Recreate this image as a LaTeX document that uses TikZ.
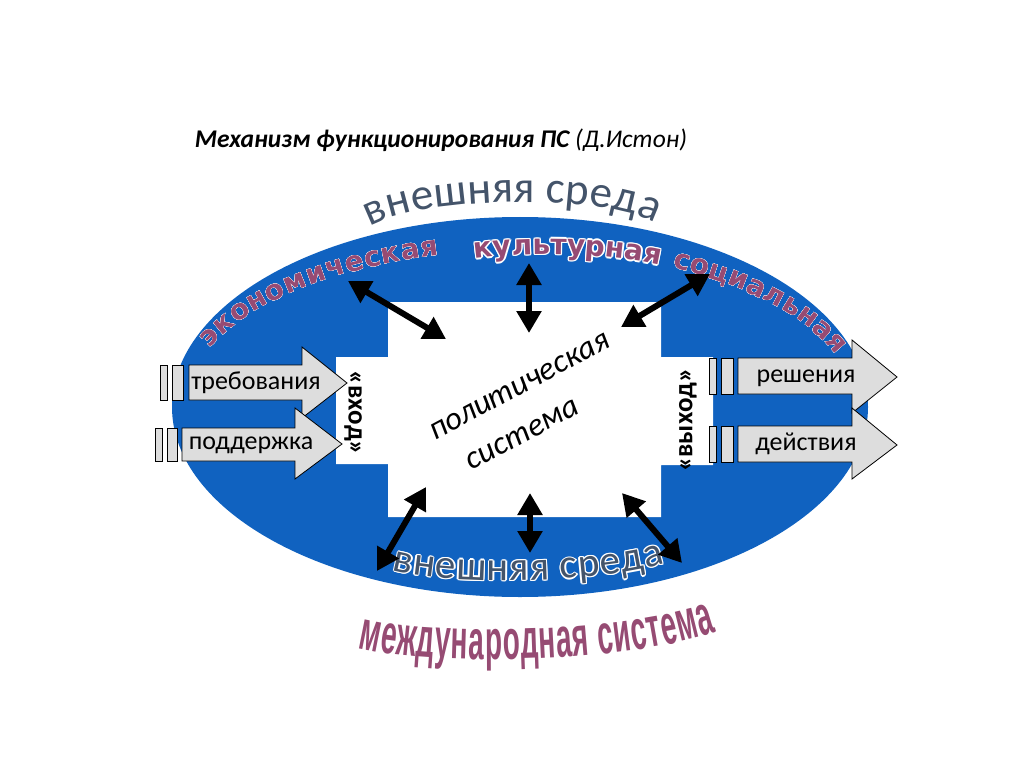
\documentclass[tikz,border=0pt]{standalone}
\usepackage{fontspec}
\setmainfont{Carlito}
\newfontfamily\heavyfont{DejaVu Sans}
\newfontfamily\narrowfont[FakeStretch=0.5]{Liberation Sans}
\usepackage{tikz}
\usetikzlibrary{positioning,arrows.meta,decorations.text}
\definecolor{eastonBlue}{HTML}{1062C0}
\definecolor{eastonMauve}{HTML}{964B73}
\definecolor{eastonSlate}{HTML}{44546A}
\definecolor{eastonGrey}{HTML}{DDDDDD}
\newcommand\ringfont{\heavyfont\bfseries\fontsize{28}{28}\selectfont}
\newcommand\envfont{\fontsize{45}{45}\selectfont}
\newcommand\lowenvfont{\fontsize{41}{41}\selectfont}
\newcommand\worldfont{\narrowfont\bfseries\fontsize{56}{56}\selectfont}
\tikzset{
  titletext/.style={font=\itshape\fontsize{25.5}{25.5}\selectfont,text=black},
  flowarrow/.style={draw=black,fill=eastonGrey,line width=0.8pt},
  flowbar/.style={draw=black,fill=eastonGrey,line width=0.6pt},
  flowlabel/.style={font=\fontsize{26}{26}\selectfont,text=black,inner sep=0pt},
  gatelabel/.style={font=\bfseries\fontsize{27}{27}\selectfont,text=black,inner sep=0pt},
  linkarrow/.style={{Triangle[length=22pt,width=24pt]}-{Triangle[length=22pt,width=24pt]},line width=6pt,draw=black},
  alongtext/.style 2 args={decorate,decoration={text along path,text align=fit to path,text color=#1,text={#2}}}
}

\begin{document}
\begin{tikzpicture}[x=1pt,y=-1pt]
  \useasboundingbox (0,0) rectangle (1024,767);
  \node[titletext] (title) at (441,140) {\textbf{Механизм функционирования ПС} (Д.Истон)};

  \coordinate (c) at (520,407);
  \fill[eastonBlue] (c) ellipse [x radius=348, y radius=190];
  \fill[white] (388,302) -- (661,302) -- (661,357) -- (713,357) -- (713,465) -- (661,465)
    -- (661,517) -- (388,517) -- (388,464) -- (336,464) -- (336,357) -- (388,357) -- cycle;

  \path[alongtext={eastonSlate}{|\envfont|внешняя среда}]
    (370,227) .. controls (420,196) and (605,193) .. (655,223);
  \path[alongtext={eastonMauve}{|\worldfont|международная система}]
    (358,648) .. controls (430,666) and (620,664) .. (716,632);

  % white rim first, coloured letters on top
  \foreach \ox/\oy/\ink in {-1.3/0/white,1.3/0/white,0/-1.3/white,0/1.3/white,
      -1/-1/white,1/1/white,-1/1/white,1/-1/white,0/0/eastonMauve}{
    \path[shift={(\ox,\oy)},alongtext={\ink}{|\ringfont|экономическая}]
      (c) ++(202:335 and 156) arc[start angle=202,end angle=256,x radius=335,y radius=156];
    \path[shift={(\ox,\oy)},alongtext={\ink}{|\ringfont|культурная}]
      (475,259) .. controls (525,252) and (600,252) .. (658,265);
    \path[shift={(\ox,\oy)},alongtext={\ink}{|\ringfont|социальная}]
      (c) ++(297:335 and 156) arc[start angle=297,end angle=340,x radius=335,y radius=156];
  }
  \foreach \ox/\oy/\ink in {-1.2/0/white,1.2/0/white,0/-1.2/white,0/1.2/white,
      -.9/-.9/white,.9/.9/white,-.9/.9/white,.9/-.9/white,0/0/eastonSlate}
    \path[shift={(\ox,\oy)},alongtext={\ink}{|\lowenvfont|внешняя среда}]
      (392,570) .. controls (440,585) and (600,585) .. (665,563);

  \coordinate (eco-out) at (348,281);
  \coordinate (eco-in) at (446,339);
  \coordinate (cul-out) at (529,263);
  \coordinate (cul-in) at (529,333);
  \coordinate (soc-out) at (710,274);
  \coordinate (soc-in) at (621,327);
  \coordinate (low-l-in) at (426,487);
  \coordinate (low-l-out) at (377,571);
  \coordinate (low-c-in) at (530,493);
  \coordinate (low-c-out) at (530,553);
  \coordinate (low-r-in) at (622,493);
  \coordinate (low-r-out) at (682,563);
  \foreach \a/\b in {eco-out/eco-in,cul-out/cul-in,soc-out/soc-in,
      low-l-in/low-l-out,low-c-in/low-c-out,low-r-in/low-r-out}
    \draw[linkarrow] (\a) -- (\b);

  \draw[flowarrow] (189,365) -- (302,365) -- (302,347) -- (347,383) -- (302,418) -- (302,400) -- (189,400) -- cycle;
  \draw[flowbar] (160,365) rectangle (167,400);
  \draw[flowbar] (172,365) rectangle (183,400);
  \node[flowlabel] (reqs) at (256,383) {требования};

  \draw[flowarrow] (182,428) -- (295,428) -- (295,408) -- (342,444) -- (295,479) -- (295,461) -- (182,461) -- cycle;
  \draw[flowbar] (155,428) rectangle (162,461);
  \draw[flowbar] (167,428) rectangle (177,461);
  \node[flowlabel] (supp) at (251,445) {поддержка};

  \draw[flowarrow] (738,358) -- (852,358) -- (852,340) -- (897,377) -- (852,413) -- (852,394) -- (738,394) -- cycle;
  \draw[flowbar] (709,358) rectangle (716,394);
  \draw[flowbar] (721,358) rectangle (733,394);
  \node[flowlabel] (dec) at (806,378) {решения};

  \draw[flowarrow] (738,426) -- (852,426) -- (852,408) -- (897,445) -- (852,479) -- (852,462) -- (738,462) -- cycle;
  \draw[flowbar] (709,426) rectangle (716,462);
  \draw[flowbar] (721,426) rectangle (733,462);
  \node[flowlabel] (act) at (806,444) {действия};

  \node[gatelabel,rotate=-90] (input) at (353,413) {«вход»};
  \node[gatelabel,rotate=90] (output) at (688,420) {«выход»};
  \node[font=\itshape\fontsize{32.5}{44}\selectfont,align=center,rotate=28] (polsys) at (530,406) {политическая\\система\hspace*{40pt}};
\end{tikzpicture}
\end{document}
